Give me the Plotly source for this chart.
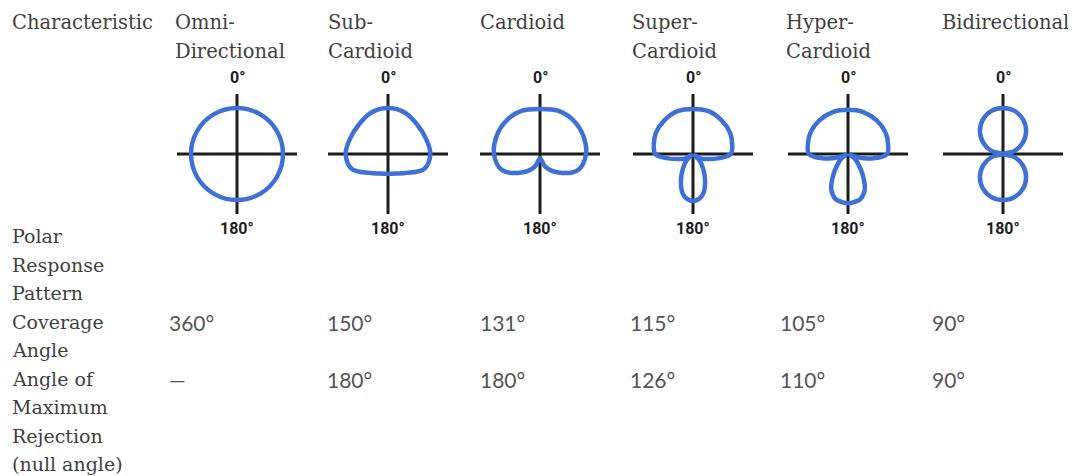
import plotly.graph_objects as go

# page body adds an 8px margin, so the figure is drawn 8px smaller and shifted
OFF = 8
W, H = 1076 - OFF, 476 - OFF

# ---------------- data ----------------
corner_label = "Characteristic"
column_titles = [
    ["Omni-", "Directional"],
    ["Sub-", "Cardioid"],
    ["Cardioid"],
    ["Super-", "Cardioid"],
    ["Hyper-", "Cardioid"],
    ["Bidirectional"],
]
row_label_lines = ["Polar", "Response", "Pattern", "Coverage", "Angle",
                   "Angle of", "Maximum", "Rejection", "(null angle)"]
coverage_angle = ["360°", "150°", "131°", "115°", "105°", "90°"]
rejection_angle = ["—", "180°", "180°", "126°", "110°", "90°"]
axis_top_label = "0°"
axis_bottom_label = "180°"

# polar responses (half pattern 0..180 deg, symmetric)
omni_theta = [0, 30, 60, 90, 120, 150, 180]
omni_r = [1.0, 1.0, 1.0, 1.0, 1.0, 1.0, 1.0]

sub_theta = [0, 22.5, 45, 67.5, 90, 112.5, 135, 157.5, 180]
sub_r = [1.0, 0.97, 0.9, 0.89, 0.92, 0.85, 0.58, 0.46, 0.43]

card_theta = [0, 22.5, 45, 67.5, 90, 112.5, 135, 157.5, 180]
card_r = [0.98, 1.02, 1.03, 1.02, 1.0, 0.9, 0.57, 0.3, 0.1]

super_theta = [0, 20, 40, 60, 75, 90, 100, 110, 120, 127, 135, 145, 155, 165, 172, 180]
super_r = [0.98, 0.99, 0.96, 0.93, 0.88, 0.82, 0.55, 0.32, 0.2, 0.05, 0.2, 0.38, 0.62, 0.88, 0.98, 1.02]

hyper_theta = [0, 20, 40, 60, 75, 90, 100, 105, 110, 115, 125, 135, 145, 155, 165, 172, 180]
hyper_r = [0.96, 0.97, 0.96, 0.94, 0.9, 0.85, 0.55, 0.35, 0.15, 0.05, 0.18, 0.32, 0.56, 0.86, 1.02, 1.05, 1.07]

bi_theta = [0, 15, 30, 45, 60, 75, 90, 105, 120, 135, 150, 165, 180]
bi_r = [1.0, 0.97, 0.87, 0.71, 0.5, 0.26, 0.0, 0.26, 0.5, 0.71, 0.87, 0.97, 1.0]

patterns = [(omni_theta, omni_r), (sub_theta, sub_r), (card_theta, card_r),
            (super_theta, super_r), (hyper_theta, hyper_r), (bi_theta, bi_r)]

# ---------------- layout constants (reference pixel positions) ----------------
BLUE = "#3e70d6"
AXIS = "#1c1c1c"
TEXT = "#3f3f3f"
SERIF = "DejaVu Serif"
SANS = "Lato"

title_x = [173, 326, 478, 630, 784, 940]
center_x = [237, 388, 540, 693, 848, 1003]
value_x = [167, 325, 478, 628, 778, 930]
center_y = 154
half = 60          # half length of cross, px
unit = 46          # px per r = 1


def mirror(theta, r):
    th = list(theta)
    rr = list(r)
    full_t = [360 - t for t in reversed(th)] + th[1:]
    full_r = list(reversed(rr)) + rr[1:]
    start = full_t.index(180)
    full_t = full_t[start:] + full_t[1:start + 1]
    full_r = full_r[start:] + full_r[1:start + 1]
    return full_t, full_r


fig = go.Figure()
layout_polars = {}
for i, (th, rr) in enumerate(patterns):
    name = "polar" if i == 0 else f"polar{i + 1}"
    t_full, r_full = mirror(th, rr)
    fig.add_trace(go.Scatterpolar(
        theta=t_full, r=r_full, mode="lines", subplot=name,
        line=dict(color=BLUE, width=4.5, shape="spline", smoothing=1.0),
        showlegend=False, hoverinfo="skip"))
    cx = center_x[i] - OFF
    cy = center_y - OFF
    layout_polars[name] = dict(
        domain=dict(x=[(cx - half) / W, (cx + half) / W],
                    y=[1 - (cy + half) / H, 1 - (cy - half) / H]),
        bgcolor="rgba(0,0,0,0)",
        angularaxis=dict(rotation=90, direction="clockwise", tickmode="array",
                         tickvals=[0, 90, 180, 270], showticklabels=False, ticks="",
                         showline=False, showgrid=True, gridcolor=AXIS, gridwidth=3),
        radialaxis=dict(visible=False, range=[0, half / unit], showgrid=False,
                        showline=False, showticklabels=False, ticks=""),
    )

annotations = []


def add_text(text, px, py, font, size, color, anchor="left", weight="normal"):
    annotations.append(dict(text=text, x=(px - OFF) / W, y=1 - (py - OFF) / H,
                            xref="paper", yref="paper",
                            xanchor=anchor, yanchor="middle", showarrow=False,
                            font=dict(family=font, size=size, color=color, weight=weight)))


add_text(corner_label, 10, 22, SERIF, 19.5, TEXT)
for i, lines in enumerate(column_titles):
    for j, line in enumerate(lines):
        add_text(line, title_x[i], 22 + 29 * j, SERIF, 19.5, TEXT)
    add_text(axis_top_label, center_x[i], 77, "Roboto", 16, "#1e1e1e", anchor="center", weight="bold")
    add_text(axis_bottom_label, center_x[i], 228, "Roboto", 16, "#1e1e1e", anchor="center", weight="bold")

for k, line in enumerate(row_label_lines):
    add_text(line, 10, 236 + 28.5 * k, SERIF, 19, TEXT)

for i in range(len(coverage_angle)):
    add_text(coverage_angle[i], value_x[i], 322, SANS, 21, "#555555")
    add_text(rejection_angle[i], value_x[i], 379, SANS, 21, "#555555")

fig.update_layout(
    width=W, height=H, margin=dict(l=0, r=0, t=0, b=0),
    paper_bgcolor="white", plot_bgcolor="white",
    annotations=annotations, showlegend=False,
    **layout_polars,
)

fig.write_html("out.html")
